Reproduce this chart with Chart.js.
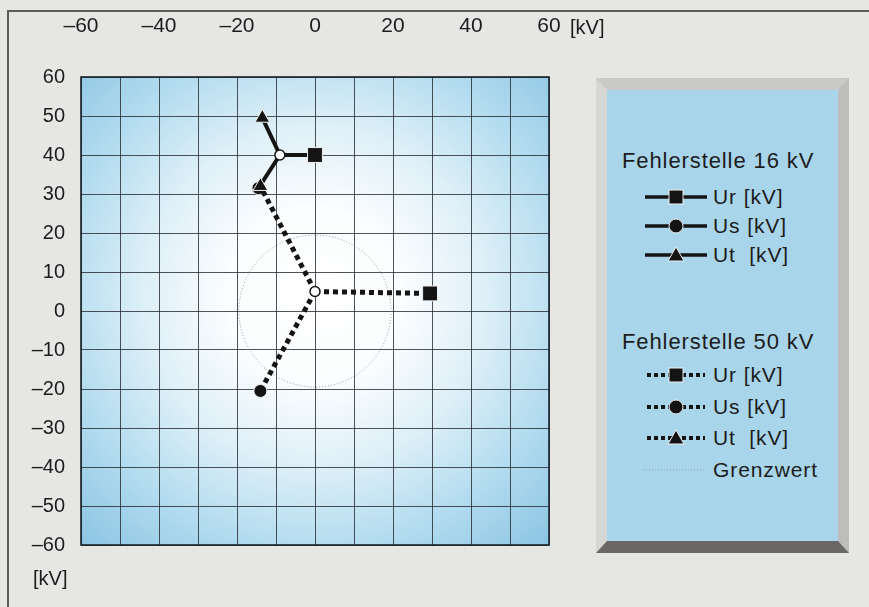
<!DOCTYPE html>
<html>
<head>
<meta charset="utf-8">
<script src="https://cdn.jsdelivr.net/npm/chart.js@4.4.1/dist/chart.umd.min.js"></script>
<style>
  html, body { margin: 0; padding: 0; }
  body {
    width: 869px; height: 607px; position: relative; overflow: hidden;
    background: #e6e6e4;
    font-family: "Liberation Sans", Arial, sans-serif; color: #1c1c1c;
  }
  #frame {
    position: absolute; left: 7px; top: 10px; width: 880px; height: 620px;
    border-left: 2px solid #5e5b58; border-top: 2px solid #5e5b58;
  }
  #chart { position: absolute; left: 0; top: 0; }
  .unit { position: absolute; font-size: 20px; line-height: 24px; }
  #legend {
    position: absolute; left: 596px; top: 78px; width: 253px; height: 475px;
    box-sizing: border-box; border-style: solid;
    border-width: 12px 11px 12px 11px;
    border-color: #c9c9c7 #bdbdbb #6a6866 #d6d6d4;
    background: #a9d5ea;
  }
  .row { position: absolute; left: 0; height: 28px; line-height: 28px; font-size: 21px; white-space: pre; letter-spacing: 0.9px; }
  .head { left: 15px; font-size: 22px; letter-spacing: 0.9px; }
  .sym { position: absolute; left: 36px; top: 1px; }
  .txt { position: absolute; left: 106px; }
</style>
</head>
<body>
<div id="frame"></div>
<canvas id="chart" width="869" height="607"></canvas>
<div class="unit" style="left:570px; top:15px;">[kV]</div>
<div class="unit" style="left:33px; top:566px;">[kV]</div>
<div id="legend"></div>

<script>
  // axis range and ticks
  const axisMin = -60;
  const axisMax = 60;
  const gridStep = 10;
  const labelStepX = 20;

  // phase names as in the legend
  const phaseNames = ['Ur [kV]', 'Us [kV]', 'Ut  [kV]'];

  // Fehlerstelle 16 kV: star point and phase ends (Ur, Us, Ut)
  const star16 = [-9, 40];
  const fehler16X = [0, -14.5, -13.5];
  const fehler16Y = [40, 31.5, 49.5];

  // Fehlerstelle 50 kV
  const star50 = [0, 5];
  const fehler50X = [29.5, -14, -14];
  const fehler50Y = [4.5, -20.5, 32];

  // Grenzwert circle (center and radius in kV)
  const grenzwertCenter = [0, 0];
  const grenzwertRadius = 19.5;

  const markers = ['rect', 'circle', 'triangle'];
  const markerSize = [10.5, 6.5, 8.5];

  function minus(v) {
    return v < 0 ? '\u2013' + Math.abs(v) : String(v);
  }

  function phaseSets(star, xs, ys, solid) {
    return xs.map(function (x, i) {
      return {
        label: phaseNames[i],
        data: [{ x: star[0], y: star[1] }, { x: x, y: ys[i] }],
        showLine: true,
        borderColor: '#141414',
        borderWidth: solid ? 4 : 5,
        borderDash: solid ? [] : [5, 4],
        pointStyle: markers[i],
        pointRadius: [0, markerSize[i]],
        pointBackgroundColor: '#141414',
        pointBorderColor: '#f0f0f0',
        pointBorderWidth: 1
      };
    });
  }

  // star points drawn on top of everything
  const starSet = {
    label: 'Sternpunkt',
    data: [{ x: star16[0], y: star16[1] }, { x: star50[0], y: star50[1] }],
    showLine: false,
    pointStyle: 'circle',
    pointRadius: 5,
    pointBackgroundColor: '#ffffff',
    pointBorderColor: '#141414',
    pointBorderWidth: 1.5
  };

  const areaBackground = {
    id: 'areaBackground',
    beforeDraw(chart) {
      const a = chart.chartArea;
      const ctx = chart.ctx;
      const cx = chart.scales.x.getPixelForValue(0);
      const cy = chart.scales.y.getPixelForValue(4);
      const g = ctx.createRadialGradient(cx, cy, 0, cx, cy, 350);
      g.addColorStop(0, '#ffffff');
      g.addColorStop(0.25, '#fbfdfe');
      g.addColorStop(0.48, '#dff0f8');
      g.addColorStop(0.72, '#b3dcef');
      g.addColorStop(1, '#88c2e2');
      ctx.save();
      ctx.fillStyle = g;
      ctx.fillRect(a.left, a.top, a.right - a.left, a.bottom - a.top);
      ctx.restore();
    }
  };

  const grenzwert = {
    id: 'grenzwert',
    beforeDatasetsDraw(chart) {
      const xs = chart.scales.x, ys = chart.scales.y;
      const ctx = chart.ctx;
      const cx = xs.getPixelForValue(grenzwertCenter[0]);
      const cy = ys.getPixelForValue(grenzwertCenter[1]);
      const r = xs.getPixelForValue(grenzwertCenter[0] + grenzwertRadius) - cx;
      ctx.save();
      ctx.strokeStyle = 'rgba(110,110,110,0.7)';
      ctx.lineWidth = 1;
      ctx.setLineDash([1, 2]);
      ctx.beginPath();
      ctx.arc(cx, cy, r, 0, Math.PI * 2);
      ctx.stroke();
      ctx.setLineDash([]);
      // plot border
      const a = chart.chartArea;
      ctx.strokeStyle = '#1b2328';
      ctx.lineWidth = 1.6;
      ctx.strokeRect(a.left, a.top, a.right - a.left, a.bottom - a.top);
      ctx.restore();
    }
  };

  const ctx = document.getElementById('chart').getContext('2d');
  new Chart(ctx, {
    type: 'scatter',
    data: {
      datasets: [starSet]
        .concat(phaseSets(star50, fehler50X, fehler50Y, false))
        .concat(phaseSets(star16, fehler16X, fehler16Y, true))
    },
    options: {
      responsive: false,
      animation: false,
      layout: { padding: { left: 0, top: 0, right: 320, bottom: 62 } },
      plugins: { legend: { display: false }, tooltip: { enabled: false } },
      scales: {
        x: {
          position: 'top',
          min: axisMin, max: axisMax,
          afterFit(scale) { scale.height = 77; },
          grid: { color: 'rgba(35,40,48,0.8)', lineWidth: 1, drawTicks: false },
          border: { display: false },
          ticks: {
            stepSize: gridStep,
            padding: 38,
            maxRotation: 0,
            autoSkip: false,
            color: '#1c1c1c',
            font: { family: '"Liberation Sans", Arial, sans-serif', size: 21 },
            callback: function (v) { return v % labelStepX === 0 ? minus(v) : ''; }
          }
        },
        y: {
          min: axisMin, max: axisMax,
          afterFit(scale) { scale.width = 81; },
          grid: { color: 'rgba(35,40,48,0.8)', lineWidth: 1, drawTicks: false },
          border: { display: false },
          ticks: {
            stepSize: gridStep,
            padding: 16,
            autoSkip: false,
            color: '#1c1c1c',
            font: { family: '"Liberation Sans", Arial, sans-serif', size: 20 },
            callback: function (v) { return minus(v); }
          }
        }
      }
    },
    plugins: [areaBackground, grenzwert]
  });

  // HTML legend panel
  const legend = document.getElementById('legend');
  const innerTop = 90;

  function symbolSvg(i, solid) {
    let line = solid
      ? '<line x1="2" y1="13" x2="64" y2="13" stroke="#141414" stroke-width="3.5"/>'
      : '<line x1="4" y1="13" x2="62" y2="13" stroke="#141414" stroke-width="4" stroke-dasharray="4,3"/>';
    let mark;
    if (markers[i] === 'rect') mark = '<rect x="26" y="6" width="14" height="14" fill="#141414" stroke="#f0f0f0" stroke-width="1"/>';
    else if (markers[i] === 'circle') mark = '<circle cx="33" cy="13" r="7" fill="#141414" stroke="#f0f0f0" stroke-width="1"/>';
    else mark = '<polygon points="33,5 41,19 25,19" fill="#141414" stroke="#f0f0f0" stroke-width="1"/>';
    return '<svg class="sym" width="68" height="26">' + line + mark + '</svg>';
  }

  function addHead(text, centerY) {
    const d = document.createElement('div');
    d.className = 'row head';
    d.style.top = (centerY - innerTop - 14) + 'px';
    d.textContent = text;
    legend.appendChild(d);
  }

  function addItem(i, solid, centerY) {
    const d = document.createElement('div');
    d.className = 'row';
    d.style.top = (centerY - innerTop - 14) + 'px';
    d.style.width = '230px';
    d.innerHTML = symbolSvg(i, solid) + '<span class="txt"></span>';
    d.querySelector('.txt').textContent = phaseNames[i];
    legend.appendChild(d);
  }

  addHead('Fehlerstelle 16 kV', 161);
  [197, 226, 255].forEach(function (y, i) { addItem(i, true, y); });
  addHead('Fehlerstelle 50 kV', 342);
  [375, 407, 438].forEach(function (y, i) { addItem(i, false, y); });

  const gw = document.createElement('div');
  gw.className = 'row';
  gw.style.top = (470 - innerTop - 14) + 'px';
  gw.style.width = '230px';
  gw.innerHTML = '<svg class="sym" width="68" height="26"><line x1="0" y1="13" x2="62" y2="13" stroke="rgba(120,120,120,0.5)" stroke-width="1" stroke-dasharray="1,2"/></svg><span class="txt">Grenzwert</span>';
  legend.appendChild(gw);
</script>
</body>
</html>
